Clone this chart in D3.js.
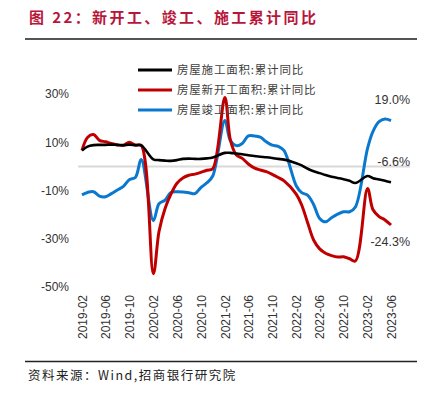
<!DOCTYPE html>
<html>
<head>
<meta charset="utf-8">
<script src="https://cdn.jsdelivr.net/npm/d3@7"></script>
<style>
  body { margin: 0; background: #fff; }
  text { font-family: "Liberation Sans", Arial, sans-serif; }
  .cjk { font-family: "Noto Sans CJK SC", sans-serif; }
</style>
</head>
<body>
<div class="chart"></div>
<script>
// months shown in the chart (cumulative data, no January)
var months = [
  "2019-02","2019-03","2019-04","2019-05","2019-06","2019-07","2019-08","2019-09","2019-10","2019-11","2019-12",
  "2020-02","2020-03","2020-04","2020-05","2020-06","2020-07","2020-08","2020-09","2020-10","2020-11","2020-12",
  "2021-02","2021-03","2021-04","2021-05","2021-06","2021-07","2021-08","2021-09","2021-10","2021-11","2021-12",
  "2022-02","2022-03","2022-04","2022-05","2022-06","2022-07","2022-08","2022-09","2022-10","2022-11","2022-12",
  "2023-02","2023-03","2023-04","2023-05","2023-06"
];

// 房屋施工面积:累计同比
var constructionYoY = [
  6.6, 8.2, 8.8, 8.9, 8.9, 9.0, 8.9, 8.8, 9.0, 8.8, 8.7,
  2.9, 2.6, 2.4, 2.3, 2.6, 3.1, 3.2, 3.1, 3.1, 3.3, 3.7,
  5.6, 5.6, 5.3, 5.0, 4.6, 4.3, 4.0, 3.8, 3.5, 3.1, 2.8,
  1.3, 0.4, -1.0, -2.0, -2.8, -3.6, -4.3, -4.8, -5.3, -6.0, -6.9,
  -4.0, -4.9, -5.4, -6.0, -6.6
];

// 房屋新开工面积:累计同比
var newStartsYoY = [
  6.6, 12.0, 13.2, 10.8, 10.2, 9.5, 8.9, 8.7, 10.0, 8.8, 8.7,
  -44.5, -27.0, -17.5, -11.5, -7.0, -4.8, -3.7, -3.2, -2.5, -1.6, -1.0,
  28.5, 11.0, 4.7, 3.3, 1.0, -0.6, -1.5, -2.2, -3.3, -4.6, -6.0,
  -11.5, -16.0, -23.5, -30.5, -34.2, -36.0, -37.0, -37.6, -37.5, -38.3, -39.2,
  -9.2, -18.0, -20.8, -22.2, -24.3
];

// 房屋竣工面积:累计同比
var completionsYoY = [
  -11.8, -10.8, -10.5, -12.3, -12.6, -11.3, -9.8, -8.3, -5.5, -4.6, 2.8,
  -22.5, -15.5, -14.0, -10.8, -10.5, -10.6, -10.9, -11.3, -8.8, -6.8, -4.0,
  19.0, 10.7, 8.6, 9.5, 12.6, 12.6, 12.1, 10.2, 8.8, 8.3, 6.5,
  -8.0, -10.9, -12.0, -15.8, -21.6, -23.0, -21.3, -19.8, -18.8, -18.8, -16.8,
  7.5, 14.5, 18.5, 19.6, 19.0
];

var seriesNames = ["房屋施工面积:累计同比", "房屋新开工面积:累计同比", "房屋竣工面积:累计同比"];
var seriesColors = ["#000000", "#c00000", "#0b78cf"];
var xTickLabels = ["2019-02","2019-06","2019-10","2020-02","2020-06","2020-10","2021-02",
  "2021-06","2021-10","2022-02","2022-06","2022-10","2023-02","2023-06"];
var yTicks = [30, 10, -10, -30, -50];
var endLabels = ["-6.6%", "-24.3%", "19.0%"];

var svgWidth = 430;
var svgHeight = 398;

var svg = d3.select(".chart")
  .append("svg")
  .attr("width", svgWidth)
  .attr("height", svgHeight);

// title
svg.append("text")
  .attr("class", "cjk")
  .attr("x", 29)
  .attr("y", 23)
  .attr("fill", "#b8153b")
  .attr("font-size", 15)
  .attr("font-weight", "bold")
  .attr("letter-spacing", 2.4)
  .text("图 22：新开工、竣工、施工累计同比");

svg.append("line")
  .attr("x1", 25).attr("x2", 417)
  .attr("y1", 39).attr("y2", 39)
  .attr("stroke", "#555").attr("stroke-width", 2);

svg.append("line")
  .attr("x1", 25).attr("x2", 417)
  .attr("y1", 361.5).attr("y2", 361.5)
  .attr("stroke", "#222").attr("stroke-width", 1.5);

svg.append("text")
  .attr("class", "cjk")
  .attr("x", 28)
  .attr("y", 380)
  .attr("fill", "#222")
  .attr("font-size", 12.5)
  .attr("letter-spacing", 1.5)
  .text("资料来源：Wind,招商银行研究院");

var parseMonth = d3.timeParse("%Y-%m");

var xScale = d3.scaleTime()
  .domain([parseMonth(months[0]), parseMonth(months[months.length - 1])])
  .range([82, 391]);

var yScale = d3.scaleLinear()
  .domain([-50, 30])
  .range([287, 94]);

// zero line
svg.append("line")
  .attr("x1", 78).attr("x2", 410)
  .attr("y1", yScale(0)).attr("y2", yScale(0))
  .attr("stroke", "#d9d9d9").attr("stroke-width", 2);

// y axis labels
var leftAxis = d3.axisLeft(yScale)
  .tickValues(yTicks)
  .tickSize(0)
  .tickPadding(0)
  .tickFormat(d => d + "%");

var yAxis = svg.append("g")
  .attr("transform", "translate(69,0)")
  .call(leftAxis);
yAxis.select(".domain").remove();
yAxis.selectAll("text")
  .attr("font-size", 12)
  .attr("font-family", "Liberation Sans, Arial, sans-serif")
  .attr("fill", "#333");

// x axis labels (rotated)
var bottomAxis = d3.axisBottom(xScale)
  .tickValues(xTickLabels.map(parseMonth))
  .tickSize(0)
  .tickFormat(d3.timeFormat("%Y-%m"));

var xAxis = svg.append("g")
  .attr("transform", "translate(0,295)")
  .call(bottomAxis);
xAxis.select(".domain").remove();
xAxis.selectAll("text")
  .attr("font-size", 12)
  .attr("font-family", "Liberation Sans, Arial, sans-serif")
  .attr("fill", "#333")
  .attr("text-anchor", "end")
  .attr("transform", "rotate(-90)")
  .attr("x", 0)
  .attr("y", 0)
  .attr("dy", "0.35em");

var allSeries = [constructionYoY, newStartsYoY, completionsYoY];

var line = d3.line()
  .x((d, i) => xScale(parseMonth(months[i])))
  .y(d => yScale(d))
  .curve(d3.curveCatmullRom.alpha(0.5));

// draw blue first, then red, then black on top like the original
[2, 1, 0].forEach(function(k) {
  svg.append("path")
    .datum(allSeries[k])
    .attr("fill", "none")
    .attr("stroke", seriesColors[k])
    .attr("stroke-width", k === 0 ? 2.6 : 3)
    .attr("stroke-linejoin", "round")
    .attr("d", line);
});

// legend
var legendY = [70, 90, 110];
seriesNames.forEach(function(name, k) {
  svg.append("line")
    .attr("x1", 138).attr("x2", 172)
    .attr("y1", legendY[k]).attr("y2", legendY[k])
    .attr("stroke", seriesColors[k])
    .attr("stroke-width", 3);
  svg.append("text")
    .attr("class", "cjk")
    .attr("x", 177)
    .attr("y", legendY[k])
    .attr("dy", "0.35em")
    .attr("font-size", 11.5)
    .attr("letter-spacing", 0.8)
    .attr("fill", "#404040")
    .text(name);
});

// end value labels
var endLabelY = [162, 242, 100];
endLabels.forEach(function(lbl, k) {
  svg.append("text")
    .attr("x", 410)
    .attr("y", endLabelY[k])
    .attr("dy", "0.35em")
    .attr("text-anchor", "end")
    .attr("font-size", 12.5)
    .attr("fill", "#333")
    .text(lbl);
});
</script>
</body>
</html>
